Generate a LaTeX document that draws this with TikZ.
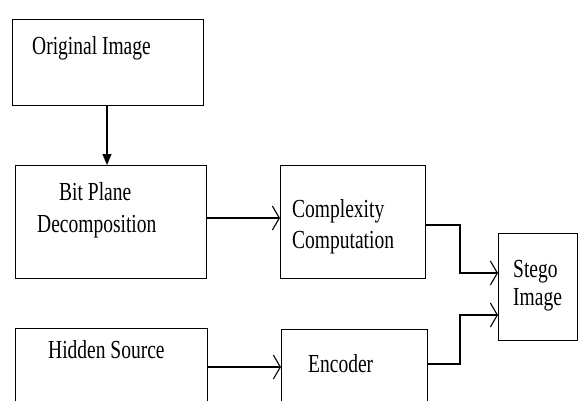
\documentclass[tikz,border=0pt]{standalone}
\usepackage{fontspec}
\setmainfont{Liberation Serif}[FakeStretch=0.75]
\usetikzlibrary{arrows.meta}
\begin{document}
\begin{tikzpicture}[x=1pt,y=-1pt,
  blockbox/.style={draw=black,line width=1.1pt,inner sep=0pt},
  blocktext/.style={anchor=base west,inner sep=0pt,font=\fontsize{26}{30}\selectfont},
  flow/.style={line width=2.7pt,-{Straight Barb[length=7pt,width=24pt,line width=1.1pt]}},
  down/.style={line width=1.2pt,-{Triangle[length=11pt,width=9pt]}}]
\useasboundingbox (0,0) rectangle (580,400);
\clip (0,0) rectangle (580,400);

% blocks, given by their corners
\node[blockbox,minimum width=191pt,minimum height=86pt,anchor=north west] (orig) at (12,19) {};
\node[blockbox,minimum width=191pt,minimum height=113pt,anchor=north west] (bpd) at (15,165) {};
\node[blockbox,minimum width=145pt,minimum height=113pt,anchor=north west] (cc) at (280,165) {};
\node[blockbox,minimum width=79pt,minimum height=107pt,anchor=north west] (stego) at (498,233) {};
\node[blockbox,minimum width=192pt,minimum height=90pt,anchor=north west] (hs) at (15,328) {};
\node[blockbox,minimum width=146pt,minimum height=90pt,anchor=north west] (enc) at (281,329) {};

% labels
\node[blocktext] (origT) at (32,54) {Original Image};
\node[blocktext] (bpdT1) at (59,200) {Bit Plane};
\node[blocktext] (bpdT2) at (37,232) {Decomposition};
\node[blocktext] (ccT1) at (292,217) {Complexity};
\node[blocktext] (ccT2) at (292,248) {Computation};
\node[blocktext] (stT1) at (513,277) {Stego};
\node[blocktext] (stT2) at (513,305) {Image};
\node[blocktext] (hsT) at (48,358) {Hidden Source};
\node[blocktext] (encT) at (308,372) {Encoder};

% connectors
\draw[down] (orig.south -| 107,0) -- (bpd.north -| 107,0);
\draw[flow] (bpd.east |- 0,218) -- (cc.west |- 0,218);
\draw[flow] (hs.east |- 0,367) -- (enc.west |- 0,367);
\draw[flow] (cc.east |- 0,225) -- (460,225) -- (460,273) -- (stego.west |- 0,273);
\draw[flow] (enc.east |- 0,364) -- (460,364) -- (460,315) -- (stego.west |- 0,315);
\end{tikzpicture}
\end{document}
